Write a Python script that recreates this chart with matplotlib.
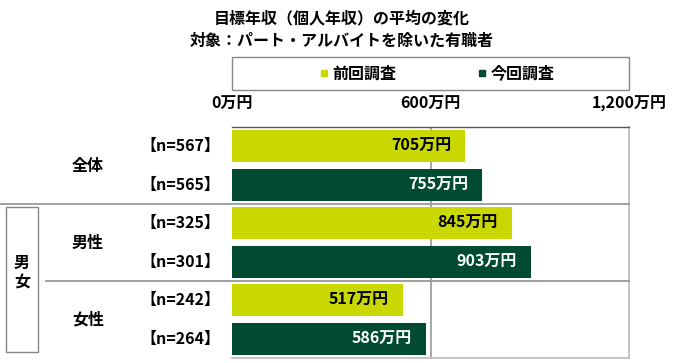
import matplotlib.pyplot as plt
from matplotlib.patches import Rectangle
from matplotlib.lines import Line2D

plt.rcParams['font.family'] = ['Noto Sans CJK JP', 'DejaVu Sans']
plt.rcParams['font.weight'] = 'bold'

groups = ['全体', '男性', '女性']
n_labels = ['【n=567】', '【n=565】', '【n=325】', '【n=301】', '【n=242】', '【n=264】']
values = [705, 755, 845, 903, 517, 586]
series = ['前回調査', '今回調査']
ticks = [0, 600, 1200]
tick_labels = ['0万円', '600万円', '1,200万円']

light = '#C8D800'
dark = '#004B32'
colors = [light, dark] * 3
text_colors = ['black', 'white'] * 3

W, H = 680, 363
fig = plt.figure(figsize=(W / 100, H / 100), dpi=100)
ax = fig.add_axes([232 / W, 1 - 358 / H, 397 / W, 231 / H])

rows = list(range(len(values)))
ax.barh(rows, values, height=0.84, color=colors, zorder=2)
ax.set_ylim(5.5, -0.5)
ax.set_xlim(0, 1200)

for r, v, tc in zip(rows, values, text_colors):
    ax.annotate(f'{v}万円', (v, r), xytext=(-10, 0), textcoords='offset points',
                ha='right', va='center', color=tc, fontsize=11.5, fontweight='bold')

ax.set_yticks([])
ax.xaxis.tick_top()
ax.set_xticks(ticks)
ax.set_xticklabels(tick_labels, fontsize=11.5, fontweight='bold')
ax.tick_params(axis='x', which='both', length=0, pad=11, top=False, bottom=False,
               labeltop=True, labelbottom=False)
ax.axvline(600, color='#999999', lw=1.2, zorder=1)
for s in ['left', 'bottom', 'right']:
    ax.spines[s].set_color('#bbbbbb')
    ax.spines[s].set_linewidth(1.2)
ax.spines['left'].set_visible(False)
ax.spines['top'].set_color('#555555')
ax.spines['top'].set_linewidth(1.0)

# separators between groups
for r, x0 in [(1.5, 0), (3.5, 46)]:
    y = 1 - (127 + (r + 0.5) * 231 / 6) / H
    fig.add_artist(Line2D([x0 / W, 629 / W], [y, y], color='#999999', lw=1.3))

# row and group labels
for r, lab in zip(rows, n_labels):
    y = 1 - (127 + (r + 0.5) * 231 / 6) / H
    fig.text(220 / W, y, lab, ha='right', va='center', fontsize=11.5, fontweight='bold')
for i, g in enumerate(groups):
    y = 1 - (127 + (2 * i + 1) * 231 / 6) / H
    fig.text(88 / W, y, g, ha='center', va='center', fontsize=11.5, fontweight='bold')

# 男女 box
fig.add_artist(Rectangle((6 / W, 1 - 352 / H), 32 / W, 145 / H, fill=False,
                         edgecolor='#888888', lw=1.0))
fig.text(22 / W, 1 - 273 / H, '男\n女', ha='center', va='center', fontsize=11.5,
         fontweight='bold', linespacing=1.3)

# title
fig.text(342 / W, 1 - 18 / H, '目標年収（個人年収）の平均の変化', ha='center', va='center',
         fontsize=11.5, fontweight='bold')
fig.text(342 / W, 1 - 41 / H, '対象：パート・アルバイトを除いた有職者', ha='center', va='center',
         fontsize=11.5, fontweight='bold')

# legend
fig.add_artist(Rectangle((232 / W, 1 - 90 / H), 397 / W, 33 / H, fill=False,
                         edgecolor='#888888', lw=1.0))
handles = [Line2D([], [], marker='s', ls='', color=c, markersize=4) for c in (light, dark)]
fig.legend(handles, series, loc='center', bbox_to_anchor=(436 / W, 1 - 73.5 / H),
           ncol=2, frameon=False, handletextpad=0.1, columnspacing=5.0,
           prop={'size': 11.5, 'weight': 'bold'}, handlelength=0.8)

fig.savefig('out.png', dpi=100)
